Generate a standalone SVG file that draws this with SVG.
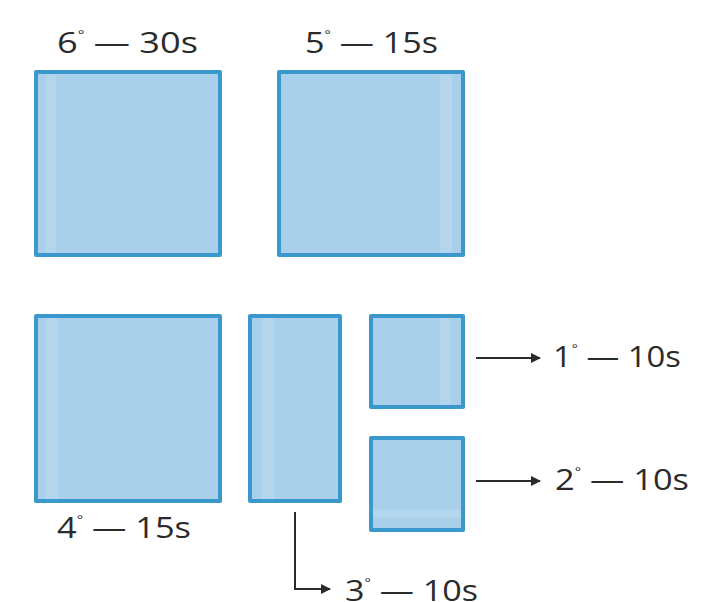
<svg xmlns="http://www.w3.org/2000/svg" width="713" height="602" viewBox="0 0 713 602">
<style>
.box{fill:#a8d0ea;stroke:#3a98cd;stroke-width:4;stroke-linejoin:round}
.band{fill:#b4d6ec;stroke:none}
.lbl{font-family:"Open Sans","Liberation Sans",sans-serif;font-size:30px;fill:#2b2b2b}
.deg{font-size:13px}
.conn{fill:none;stroke:#2b2b2b;stroke-width:2}
</style>
<defs>
<marker id="ah" viewBox="0 0 10 10" refX="9" refY="5" markerWidth="10" markerHeight="10" markerUnits="userSpaceOnUse" orient="auto">
<path d="M0,0 L10,5 L0,10 z" fill="#2b2b2b"/>
</marker>
</defs>
<rect width="713" height="602" fill="#ffffff"/>
<g id="n6">
<rect class="box" x="36" y="72" width="184" height="183"/>
<rect class="band" x="46" y="74" width="10" height="179"/>
<text class="lbl" x="57" y="53" textLength="141" lengthAdjust="spacingAndGlyphs">6<tspan class="deg" dy="-14">°</tspan><tspan dy="14"> — 30s</tspan></text>
</g>
<g id="n5">
<rect class="box" x="279" y="72" width="184" height="183"/>
<rect class="band" x="440" y="74" width="12" height="179"/>
<text class="lbl" x="305" y="53" textLength="133" lengthAdjust="spacingAndGlyphs">5<tspan class="deg" dy="-14">°</tspan><tspan dy="14"> — 15s</tspan></text>
</g>
<g id="n4">
<rect class="box" x="36" y="316" width="184" height="185"/>
<rect class="band" x="46" y="318" width="12" height="181"/>
<text class="lbl" x="57" y="538" textLength="134" lengthAdjust="spacingAndGlyphs">4<tspan class="deg" dy="-14">°</tspan><tspan dy="14"> — 15s</tspan></text>
</g>
<g id="n3">
<rect class="box" x="250" y="316" width="90" height="185"/>
<rect class="band" x="262" y="318" width="12" height="181"/>
<text class="lbl" x="345" y="601" textLength="133" lengthAdjust="spacingAndGlyphs">3<tspan class="deg" dy="-14">°</tspan><tspan dy="14"> — 10s</tspan></text>
</g>
<g id="n1">
<rect class="box" x="371" y="316" width="92" height="91"/>
<rect class="band" x="440" y="318" width="10" height="87"/>
<text class="lbl" x="553" y="367" textLength="128" lengthAdjust="spacingAndGlyphs">1<tspan class="deg" dy="-14">°</tspan><tspan dy="14"> — 10s</tspan></text>
</g>
<g id="n2">
<rect class="box" x="371" y="438" width="92" height="92"/>
<rect class="band" x="373" y="510" width="88" height="8"/>
<text class="lbl" x="555" y="490" textLength="134" lengthAdjust="spacingAndGlyphs">2<tspan class="deg" dy="-14">°</tspan><tspan dy="14"> — 10s</tspan></text>
</g>
<g id="connectors">
<path class="conn" d="M476,358 H540" marker-end="url(#ah)"/>
<path class="conn" d="M476,481 H540" marker-end="url(#ah)"/>
<path class="conn" d="M295,512 V589 H330" marker-end="url(#ah)"/>
</g>
</svg>
